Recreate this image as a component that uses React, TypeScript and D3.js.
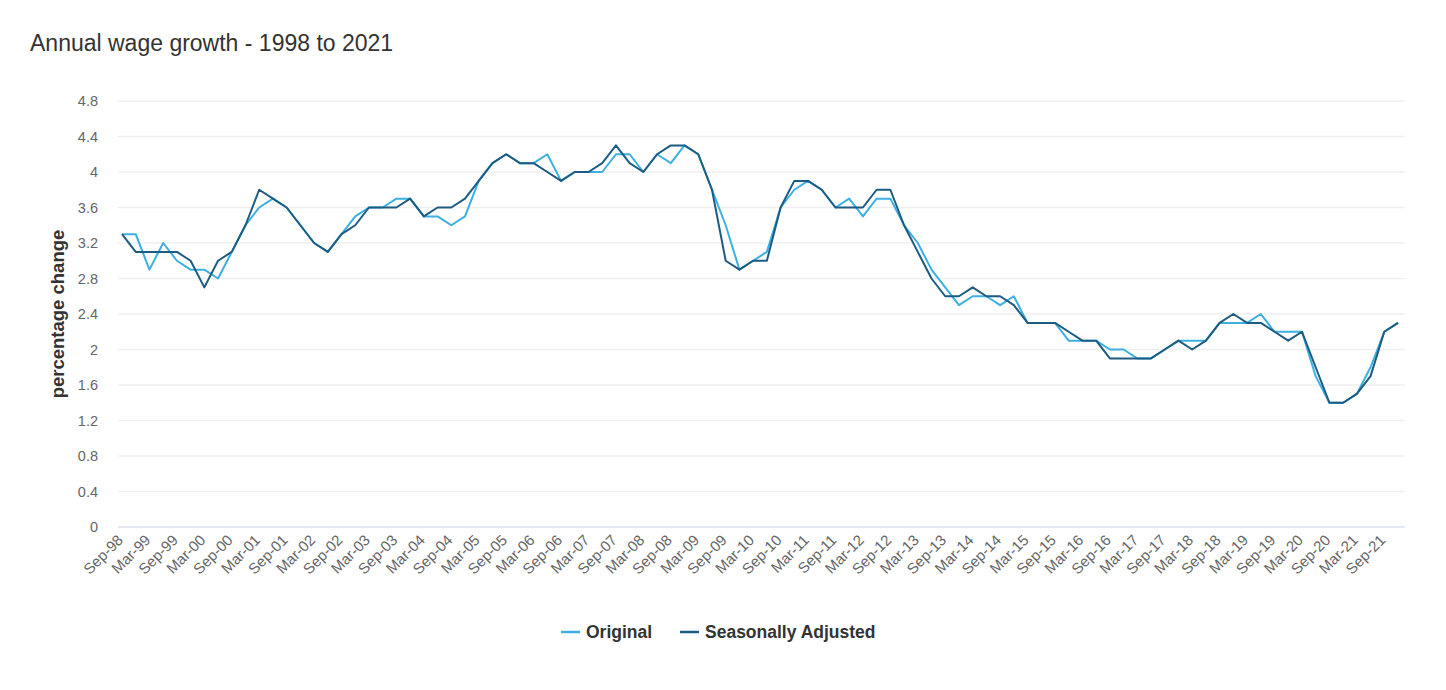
import { useEffect, useRef } from "react";
import * as d3 from "d3";

// quarterly periods, Sep-98 .. Dec-21
const startYear = 1998;
const quarterMonths = ["Mar", "Jun", "Sep", "Dec"];
const categories: string[] = [];
for (let y = startYear; y <= 2021; y++) {
  quarterMonths.forEach((m) => {
    if (y === startYear && (m === "Mar" || m === "Jun")) return;
    categories.push(`${m}-${String(y % 100).padStart(2, "0")}`);
  });
}

const original = [
  3.3, 3.3, 2.9, 3.2, 3.0, 2.9, 2.9, 2.8, 3.1, 3.4, 3.6, 3.7, 3.6, 3.4, 3.2, 3.1,
  3.3, 3.5, 3.6, 3.6, 3.7, 3.7, 3.5, 3.5, 3.4, 3.5, 3.9, 4.1, 4.2, 4.1, 4.1, 4.2,
  3.9, 4.0, 4.0, 4.0, 4.2, 4.2, 4.0, 4.2, 4.1, 4.3, 4.2, 3.8, 3.4, 2.9, 3.0, 3.1,
  3.6, 3.8, 3.9, 3.8, 3.6, 3.7, 3.5, 3.7, 3.7, 3.4, 3.2, 2.9, 2.7, 2.5, 2.6, 2.6,
  2.5, 2.6, 2.3, 2.3, 2.3, 2.1, 2.1, 2.1, 2.0, 2.0, 1.9, 1.9, 2.0, 2.1, 2.1, 2.1,
  2.3, 2.3, 2.3, 2.4, 2.2, 2.2, 2.2, 1.7, 1.4, 1.4, 1.5, 1.8, 2.2, 2.3,
];

const seasonallyAdjusted = [
  3.3, 3.1, 3.1, 3.1, 3.1, 3.0, 2.7, 3.0, 3.1, 3.4, 3.8, 3.7, 3.6, 3.4, 3.2, 3.1,
  3.3, 3.4, 3.6, 3.6, 3.6, 3.7, 3.5, 3.6, 3.6, 3.7, 3.9, 4.1, 4.2, 4.1, 4.1, 4.0,
  3.9, 4.0, 4.0, 4.1, 4.3, 4.1, 4.0, 4.2, 4.3, 4.3, 4.2, 3.8, 3.0, 2.9, 3.0, 3.0,
  3.6, 3.9, 3.9, 3.8, 3.6, 3.6, 3.6, 3.8, 3.8, 3.4, 3.1, 2.8, 2.6, 2.6, 2.7, 2.6,
  2.6, 2.5, 2.3, 2.3, 2.3, 2.2, 2.1, 2.1, 1.9, 1.9, 1.9, 1.9, 2.0, 2.1, 2.0, 2.1,
  2.3, 2.4, 2.3, 2.3, 2.2, 2.1, 2.2, 1.8, 1.4, 1.4, 1.5, 1.7, 2.2, 2.3,
];

const yTicks = [0, 0.4, 0.8, 1.2, 1.6, 2, 2.4, 2.8, 3.2, 3.6, 4, 4.4, 4.8];

const seriesList = [
  { name: "Original", values: original, color: "#3cb0e2" },
  { name: "Seasonally Adjusted", values: seasonallyAdjusted, color: "#1c5b82" },
];

const W = 1446;
const H = 690;
const FONT = "'Liberation Sans', Arial, sans-serif";

export default function App() {
  const svgRef = useRef<SVGSVGElement>(null);

  useEffect(() => {
    document.body.style.margin = "0";
    if (!svgRef.current) return;
    const svg = d3.select(svgRef.current);
    svg.selectAll("*").remove();

    const plot = { left: 118, right: 1405, top: 101, bottom: 527 };

    const x = d3.scalePoint<string>().domain(categories).range([122, 1398]);
    const y = d3.scaleLinear().domain([0, 4.8]).range([plot.bottom, plot.top]);

    // title
    svg
      .append("text")
      .attr("x", 30)
      .attr("y", 51)
      .attr("font-family", FONT)
      .attr("font-size", 23)
      .attr("fill", "#333")
      .text("Annual wage growth - 1998 to 2021");

    // grid
    svg
      .append("g")
      .selectAll("line")
      .data(yTicks)
      .join("line")
      .attr("x1", plot.left)
      .attr("x2", plot.right)
      .attr("y1", (d) => y(d))
      .attr("y2", (d) => y(d))
      .attr("stroke", (d) => (d === 0 ? "#dde1ef" : "#efefef"))
      .attr("stroke-width", 1.5);

    // y tick labels
    svg
      .append("g")
      .selectAll("text")
      .data(yTicks)
      .join("text")
      .attr("x", 98)
      .attr("y", (d) => y(d))
      .attr("dy", "0.35em")
      .attr("text-anchor", "end")
      .attr("font-family", FONT)
      .attr("font-size", 14.5)
      .attr("fill", "#666")
      .text((d) => String(d));

    // y axis title
    svg
      .append("text")
      .attr("transform", `translate(64, ${(plot.top + plot.bottom) / 2}) rotate(-90)`)
      .attr("text-anchor", "middle")
      .attr("font-family", FONT)
      .attr("font-size", 18.5)
      .attr("font-weight", "bold")
      .attr("fill", "#333")
      .text("percentage change");

    // x tick labels, every second quarter
    svg
      .append("g")
      .selectAll("text")
      .data(categories.filter((_, i) => i % 2 === 0))
      .join("text")
      .attr("transform", (d) => `translate(${(x(d) ?? 0) + 2}, 541) rotate(-45)`)
      .attr("text-anchor", "end")
      .attr("font-family", FONT)
      .attr("font-size", 15)
      .attr("fill", "#666")
      .text((d) => d);

    // lines
    const line = d3
      .line<number>()
      .x((_, i) => x(categories[i]) ?? 0)
      .y((d) => y(d));

    seriesList.forEach((s) => {
      svg
        .append("path")
        .datum(s.values)
        .attr("fill", "none")
        .attr("stroke", s.color)
        .attr("stroke-width", 2)
        .attr("stroke-linejoin", "round")
        .attr("d", line);
    });

    // legend
    const legend = svg.append("g").attr("transform", "translate(561, 632)");
    const offsets = [0, 119];
    seriesList.forEach((s, i) => {
      const g = legend.append("g").attr("transform", `translate(${offsets[i]}, 0)`);
      g.append("line")
        .attr("x1", 0)
        .attr("x2", 19)
        .attr("y1", 0)
        .attr("y2", 0)
        .attr("stroke", s.color)
        .attr("stroke-width", 2.5);
      g.append("text")
        .attr("x", 25)
        .attr("y", 0)
        .attr("dy", "0.35em")
        .attr("font-family", FONT)
        .attr("font-size", 17.5)
        .attr("font-weight", "bold")
        .attr("fill", "#333")
        .text(s.name);
    });
  }, []);

  return <svg ref={svgRef} width={W} height={H} style={{ display: "block", background: "#fff" }} />;
}
